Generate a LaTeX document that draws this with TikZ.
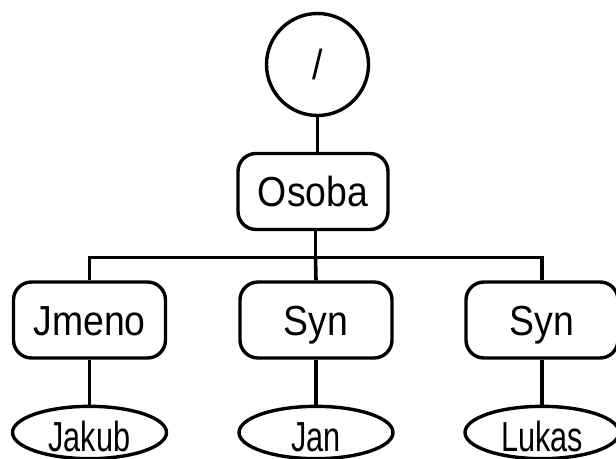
\documentclass[tikz,border=0pt]{standalone}
\usepackage{fontspec}
\usepackage{graphicx}
\setmainfont{Liberation Sans}
\usetikzlibrary{shapes.geometric}
\newcommand\boxtxt[1]{\scalebox{0.89}[1]{#1}}
\newcommand\leaftxt[1]{\scalebox{0.73}[1]{#1}}
\begin{document}
\begin{tikzpicture}[x=1pt,y=-1pt,
  every node/.style={font=\fontsize{42}{46}\selectfont, inner sep=0pt},
  conn/.style={line width=3.6pt},
  rbox/.style={draw, line width=3.4pt, rounded corners=18pt, minimum width=152pt, minimum height=76pt, text height=30pt, text depth=0pt},
  leaf/.style={draw, line width=3.4pt, ellipse, minimum width=154pt, minimum height=45pt, text height=37pt, text depth=0pt},
  rootc/.style={draw, line width=3.4pt, circle, minimum size=102pt, text height=30pt, text depth=0pt}]
\useasboundingbox (0,0) rectangle (616,458);
\clip (0,0) rectangle (616,458);
\node[rootc] (root) at (317.5,64.5) {\boxtxt{/}};
\node[rbox, minimum width=150pt] (osoba) at (313,191.5) {\boxtxt{Osoba}};
\node[rbox] (jmeno) at (89.5,320) {\boxtxt{Jmeno}};
\node[rbox] (syn1) at (316,320) {\boxtxt{Syn}};
\node[rbox] (syn2) at (542,320) {\boxtxt{Syn}};
\node[leaf] (jakub) at (89.5,432.5) {\leaftxt{Jakub}};
\node[leaf] (jan) at (316,432.5) {\leaftxt{Jan}};
\node[leaf] (lukas) at (542,432.5) {\leaftxt{Lukas}};
\coordinate (bar) at (315.5,257.5);
\draw[conn] (root.south) -- (root.south |- osoba.north);
\draw[conn] (bar |- osoba.south) -- (bar);
\draw[conn] (jmeno.north) -- (jmeno.north |- bar) -- (syn2.north |- bar) -- (syn2.north);
\draw[conn] (bar) -- (syn1.north);
\draw[conn] (jmeno.south) -- (jakub.north);
\draw[conn] (syn1.south) -- (jan.north);
\draw[conn] (syn2.south) -- (lukas.north);
\end{tikzpicture}
\end{document}
